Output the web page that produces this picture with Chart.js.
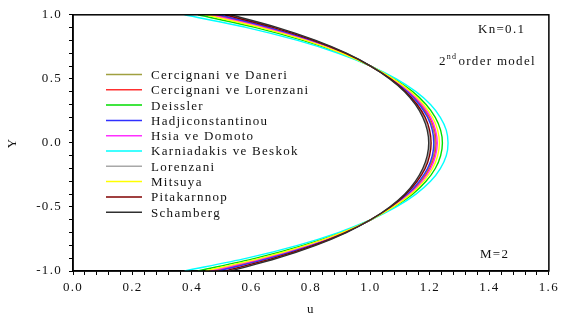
<!DOCTYPE html>
<html><head><meta charset="utf-8">
<script src="https://cdn.jsdelivr.net/npm/chart.js@4/dist/chart.umd.min.js"></script>
<style>html,body{margin:0;padding:0;background:#fff}#wrap{width:562px;height:320px}</style>
</head><body><div id="wrap"><canvas id="c" width="562" height="320"></canvas></div>
<script>
// Y positions (rows) at which u was read
const yLevels = [-1.0,-0.9,-0.8,-0.7,-0.6,-0.5,-0.4,-0.3,-0.2,-0.1,0.0,0.1,0.2,0.3,0.4,0.5,0.6,0.7,0.8,0.9,1.0];

const seriesNames = [
  'Cercignani ve Daneri','Cercignani ve Lorenzani','Deissler','Hadjiconstantinou',
  'Hsia ve Domoto','Karniadakis ve Beskok','Lorenzani','Mitsuya','Pitakarnnop','Schamberg'
];
const seriesColors = ['#a0a040','#ff3030','#00dd00','#3030ff','#ff30ff','#00ffff','#a8a8a8','#ffff00','#800000','#303030'];

// u values read at each Y level
const uCercignaniDaneri    = [0.480,0.655,0.796,0.910,1.001,1.072,1.127,1.168,1.195,1.212,1.217,1.212,1.195,1.168,1.127,1.072,1.001,0.910,0.796,0.655,0.480];
const uCercignaniLorenzani = [0.470,0.648,0.792,0.908,1.001,1.073,1.129,1.171,1.199,1.216,1.221,1.216,1.199,1.171,1.129,1.073,1.001,0.908,0.792,0.648,0.470];
const uDeissler            = [0.420,0.615,0.773,0.900,1.001,1.080,1.142,1.187,1.218,1.236,1.242,1.236,1.218,1.187,1.142,1.080,1.001,0.900,0.773,0.615,0.420];
const uHadjiconstantinou   = [0.490,0.661,0.800,0.912,1.001,1.071,1.125,1.164,1.192,1.208,1.213,1.208,1.192,1.164,1.125,1.071,1.001,0.912,0.800,0.661,0.490];
const uHsiaDomoto          = [0.460,0.641,0.788,0.906,1.001,1.075,1.132,1.174,1.203,1.219,1.225,1.219,1.203,1.174,1.132,1.075,1.001,0.906,0.788,0.641,0.460];
const uKarniadakisBeskok   = [0.375,0.585,0.755,0.892,1.001,1.087,1.153,1.202,1.235,1.255,1.261,1.255,1.235,1.202,1.153,1.087,1.001,0.892,0.755,0.585,0.375];
const uLorenzani           = [0.520,0.681,0.812,0.917,1.000,1.066,1.117,1.154,1.180,1.195,1.200,1.195,1.180,1.154,1.117,1.066,1.000,0.917,0.812,0.681,0.520];
const uMitsuya             = [0.445,0.632,0.783,0.904,1.001,1.077,1.136,1.179,1.209,1.226,1.232,1.226,1.209,1.179,1.136,1.077,1.001,0.904,0.783,0.632,0.445];
const uPitakarnnop         = [0.510,0.675,0.808,0.915,1.000,1.068,1.119,1.157,1.184,1.199,1.204,1.199,1.184,1.157,1.119,1.068,1.000,0.915,0.808,0.675,0.510];
const uSchamberg           = [0.530,0.688,0.816,0.919,1.001,1.065,1.115,1.151,1.176,1.191,1.196,1.191,1.176,1.151,1.115,1.065,1.001,0.919,0.816,0.688,0.530];

const seriesValues = [uCercignaniDaneri,uCercignaniLorenzani,uDeissler,uHadjiconstantinou,
  uHsiaDomoto,uKarniadakisBeskok,uLorenzani,uMitsuya,uPitakarnnop,uSchamberg];

const xTickLabels = ['0.0','0.2','0.4','0.6','0.8','1.0','1.2','1.4','1.6'];
const yTickLabels = ['-1.0','-0.5','0.0','0.5','1.0'];

const FONT = "'Liberation Serif', 'Times New Roman', serif";
const TXT = '#111';
const LS = '1.3px';

const datasets = seriesNames.map((name, i) => ({
  label: name,
  data: seriesValues[i].map((u, k) => ({x: u, y: yLevels[k]})),
  borderColor: seriesColors[i],
  backgroundColor: seriesColors[i],
  borderWidth: 1.4,
  pointRadius: 0,
  showLine: true,
  tension: 0.3,
  order: seriesNames.length - i
}));

function matchLabel(list, v) {
  for (const l of list) if (Math.abs(parseFloat(l) - v) < 1e-6) return l;
  return '';
}

const decor = {
  id: 'decor',
  beforeDraw(chart) { chart.ctx.letterSpacing = LS; },
  afterDatasetsDraw(chart) {
    const {ctx, chartArea: a} = chart;
    ctx.save();
    ctx.letterSpacing = LS;
    // frame
    ctx.strokeStyle = '#000';
    ctx.lineWidth = 1.5;
    ctx.strokeRect(a.left, a.top, a.right - a.left, a.bottom - a.top);
    // legend
    ctx.font = '13px ' + FONT;
    ctx.textBaseline = 'middle';
    ctx.textAlign = 'left';
    seriesNames.forEach((n, i) => {
      const y = 74.5 + i * 15.3;
      ctx.strokeStyle = seriesColors[i];
      ctx.lineWidth = 1.5;
      ctx.beginPath(); ctx.moveTo(106, y); ctx.lineTo(142, y); ctx.stroke();
      ctx.fillStyle = TXT;
      ctx.fillText(n, 151, y + 1);
    });
    // annotations
    ctx.fillStyle = TXT;
    ctx.textAlign = 'left';
    ctx.fillText('Kn=0.1', 478, 30);
    ctx.fillText('M=2', 480, 255);
    let x = 439;
    ctx.fillText('2', x, 62);
    x += ctx.measureText('2').width;
    ctx.font = '8px ' + FONT;
    ctx.fillText('nd', x, 57);
    x += ctx.measureText('nd').width + 1;
    ctx.font = '13px ' + FONT;
    ctx.fillText('order model', x, 62);
    ctx.restore();
  }
};

new Chart(document.getElementById('c'), {
  type: 'scatter',
  data: { datasets },
  options: {
    responsive: false,
    animation: false,
    layout: { padding: { top: 12, right: 9, left: 0, bottom: 0 } },
    plugins: { legend: { display: false }, tooltip: { enabled: false } },
    scales: {
      x: {
        type: 'linear', min: 0, max: 1.6,
        afterFit(s) { s.height = 49; },
        ticks: {
          stepSize: 0.04, autoSkip: false, maxRotation: 0, padding: 5,
          color: TXT, font: { family: FONT, size: 13 },
          callback: v => matchLabel(xTickLabels, v)
        },
        grid: { drawOnChartArea: false, drawTicks: true, tickLength: 4, color: '#000', lineWidth: 1 },
        border: { color: '#000', width: 1.5 },
        title: { display: true, text: 'u', color: TXT, font: { family: FONT, size: 13 }, padding: { top: 0, bottom: 3 } }
      },
      y: {
        type: 'linear', min: -1, max: 1,
        afterFit(s) { s.width = 73; },
        ticks: {
          stepSize: 0.1, autoSkip: false, padding: 7,
          color: TXT, font: { family: FONT, size: 13 },
          callback: v => matchLabel(yTickLabels, v)
        },
        grid: { drawOnChartArea: false, drawTicks: true, tickLength: 4, color: '#000', lineWidth: 1 },
        border: { color: '#000', width: 1.5 },
        title: { display: true, text: 'Y', color: TXT, font: { family: FONT, size: 13 }, padding: { top: 5, bottom: 0 } }
      }
    }
  },
  plugins: [decor]
});
</script>
</body></html>
